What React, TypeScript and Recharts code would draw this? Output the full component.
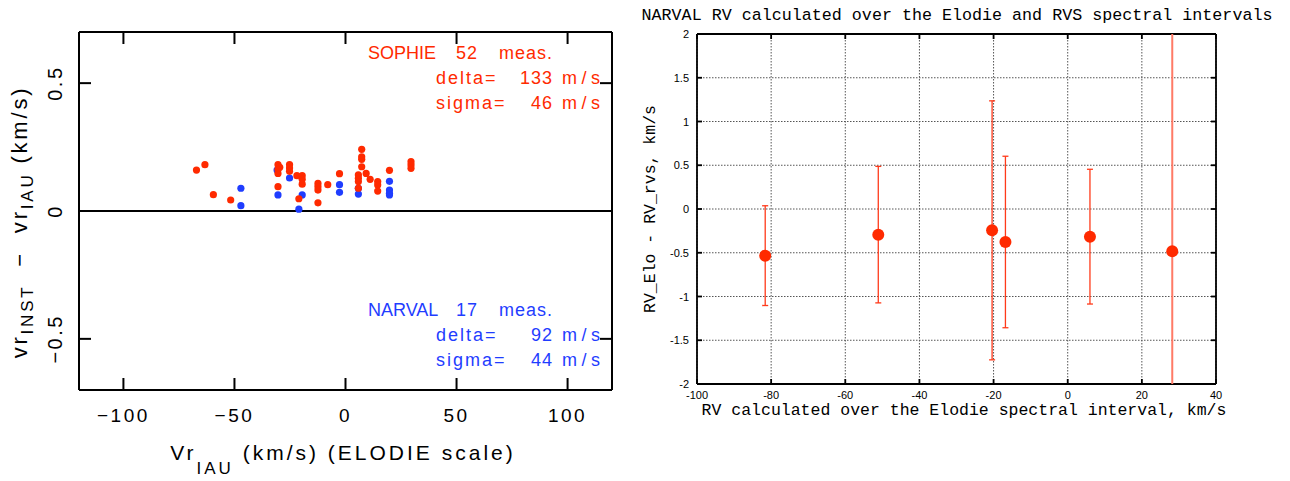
import React from 'react';
import { ScatterChart, Scatter, XAxis, YAxis, CartesianGrid, ReferenceLine, ErrorBar } from 'recharts';

// left panel: Vr(IAU) vs Vr(INST) - Vr(IAU)
const sophieVr = [
  -67.1, -63.3, -59.5, -51.7, -30.4, -29.6, -30.4, -30.4, -30.4, -25.2, -25.2, -25.2, -21.9, -19.5, -19.5, -19.5,
  -21.0, -12.4, -12.4, -12.4, -12.4, -8.0, -2.7, 7.3, 7.3, 7.3, 7.3, 5.8, 5.8, 5.8, 5.8, 9.3, 11.1, 14.5, 14.5,
  14.5, 19.8, 29.5, 29.5, 29.5,
];
const sophieDiff = [
  0.16, 0.181, 0.064, 0.043, 0.181, 0.171, 0.163, 0.147, 0.095, 0.181, 0.168, 0.155, 0.138, 0.138, 0.124, 0.105,
  0.048, 0.108, 0.095, 0.082, 0.032, 0.103, 0.146, 0.241, 0.212, 0.202, 0.173, 0.141, 0.128, 0.115, 0.089, 0.147,
  0.124, 0.115, 0.102, 0.078, 0.159, 0.193, 0.18, 0.167,
];
const narvalVr = [-47.1, -47.1, -30.4, -30.8, -25.2, -19.5, -21.0, -2.7, -2.7, 5.8, 5.8, 19.8, 19.8, 19.8, 19.8];
const narvalDiff = [0.089, 0.021, 0.063, 0.16, 0.129, 0.063, 0.007, 0.103, 0.073, 0.089, 0.066, 0.116, 0.082, 0.069, 0.063];

const sophieStats = { count: 52, delta: 133, sigma: 46 };
const narvalStats = { count: 17, delta: 92, sigma: 44 };

const leftXTicks = [-100, -50, 0, 50, 100];
const leftYTicks = [-0.5, 0, 0.5];
const leftXDomain = [-120, 120];
const leftYDomain = [-0.7, 0.7];

// right panel: RV (Elodie interval) vs RV_Elo - RV_rvs
const eloRv = [-81.6, -51.1, -20.4, -16.8, 6.0, 28.2];
const eloMinusRvs = [-0.533, -0.293, -0.244, -0.377, -0.316, -0.484];
const eloRvsErr = [0.57, 0.78, 1.48, 0.98, 0.77, 3.2];

const rightXTicks = [-100, -80, -60, -40, -20, 0, 20, 40];
const rightYTicks = [-2, -1.5, -1, -0.5, 0, 0.5, 1, 1.5, 2];
const rightXDomain = [-100, 40];
const rightYDomain = [-2, 2];

const sophieData = sophieVr.map((x, i) => ({ x, y: sophieDiff[i] }));
const narvalData = narvalVr.map((x, i) => ({ x, y: narvalDiff[i] }));
const rightData = eloRv.map((x, i) => ({
  x,
  y: eloMinusRvs[i],
  err: eloRvsErr[i],
  // bars running off the frame are cut at the frame (no caps)
  errCut: [Math.min(eloRvsErr[i], eloMinusRvs[i] - rightYDomain[0]), Math.min(eloRvsErr[i], rightYDomain[1] - eloMinusRvs[i])],
}));
const fits = (d: { y: number; err: number }) => d.y - d.err >= rightYDomain[0] && d.y + d.err <= rightYDomain[1];
const rightInside = rightData.filter(fits);
const rightOutside = rightData.filter((d) => !fits(d));

const SANS = '"Liberation Sans", Arial, Helvetica, sans-serif';
const MONO = '"Liberation Mono", "Courier New", monospace';
const RED = '#ff2a00';
const BLUE = '#1f3dff';

// plot boxes (chart coords) and inward tick length in px
const L = { top: 32, right: 612, left: 79, bottom: 390, tick: 12 };
const R = { top: 34, right: 576, left: 57, bottom: 384, tick: 5 };

const minus = (v: number) => String(v).replace('-', '\u2212');

const LeftXTick = (props: any) => {
  const { x, y, payload } = props;
  return (
    <text x={x} y={y - 2 + 32} textAnchor="middle" fontSize={19} letterSpacing={2.5} fontFamily={SANS} fill="#000">
      {minus(payload.value)}
    </text>
  );
};

const LeftYTick = (props: any) => {
  const { x, y, payload } = props;
  const bx = x + 2 - 17;
  return (
    <text x={bx} y={y} transform={`rotate(-90 ${bx} ${y})`} textAnchor="middle" fontSize={20} letterSpacing={2.5} fontFamily={SANS} fill="#000">
      {minus(payload.value)}
    </text>
  );
};

const RightXTick = (props: any) => {
  const { x, y, payload } = props;
  return (
    <text x={x} y={y - 2 + 15} textAnchor="middle" fontSize={11} fontFamily={SANS} fill="#000">
      {payload.value}
    </text>
  );
};

const RightYTick = (props: any) => {
  const { x, y, payload } = props;
  return (
    <text x={x + 2 - 8} y={y + 4} textAnchor="end" fontSize={11} fontFamily={SANS} fill="#000">
      {payload.value}
    </text>
  );
};

const dot = (r: number, color: string) => (props: any) => <circle cx={props.cx} cy={props.cy} r={r} fill={color} />;

// frame + inward ticks on all four sides, drawn as reference lines in data units
function frameLines(
  xDom: number[], yDom: number[], xTicks: number[], yTicks: number[],
  box: { top: number; right: number; left: number; bottom: number; tick: number }, width: number,
) {
  const dx = ((xDom[1] - xDom[0]) * box.tick) / (box.right - box.left);
  const dy = ((yDom[1] - yDom[0]) * box.tick) / (box.bottom - box.top);
  const s = { stroke: '#000', strokeWidth: width };
  return [
    <ReferenceLine key="fb" y={yDom[0]} {...s} />,
    <ReferenceLine key="ft" y={yDom[1]} {...s} />,
    <ReferenceLine key="fl" x={xDom[0]} {...s} />,
    <ReferenceLine key="fr" x={xDom[1]} {...s} />,
    ...xTicks.flatMap((t) => [
      <ReferenceLine key={`xb${t}`} segment={[{ x: t, y: yDom[0] }, { x: t, y: yDom[0] + dy }]} {...s} />,
      <ReferenceLine key={`xt${t}`} segment={[{ x: t, y: yDom[1] }, { x: t, y: yDom[1] - dy }]} {...s} />,
    ]),
    ...yTicks.flatMap((t) => [
      <ReferenceLine key={`yl${t}`} segment={[{ x: xDom[0], y: t }, { x: xDom[0] + dx, y: t }]} {...s} />,
      <ReferenceLine key={`yr${t}`} segment={[{ x: xDom[1], y: t }, { x: xDom[1] - dx, y: t }]} {...s} />,
    ]),
  ];
}

function LeftPanel() {
  return (
    <ScatterChart width={640} height={481} margin={{ top: L.top, right: 640 - L.right, bottom: 0, left: 0 }}>
      <XAxis type="number" dataKey="x" domain={leftXDomain} ticks={leftXTicks} interval={0} height={91}
        tickSize={0} axisLine={false} tickLine={false} tick={<LeftXTick />} allowDataOverflow />
      <YAxis type="number" dataKey="y" domain={leftYDomain} ticks={leftYTicks} interval={0} width={79}
        tickSize={0} axisLine={false} tickLine={false} tick={<LeftYTick />} allowDataOverflow />
      {frameLines(leftXDomain, leftYDomain, leftXTicks, leftYTicks, L, 2)}
      <ReferenceLine y={0} stroke="#000" strokeWidth={2} />
      <Scatter data={narvalData} fill={BLUE} shape={dot(3.6, BLUE)} isAnimationActive={false} />
      <Scatter data={sophieData} fill={RED} shape={dot(3.6, RED)} isAnimationActive={false} />
    </ScatterChart>
  );
}

function RightPanel() {
  return (
    <ScatterChart width={650} height={481} margin={{ top: R.top, right: 650 - R.right, bottom: 0, left: 0 }}>
      <CartesianGrid stroke="#555" strokeDasharray="1.5 1.5" />
      <XAxis type="number" dataKey="x" domain={rightXDomain} ticks={rightXTicks} interval={0} height={97}
        tickSize={0} axisLine={false} tickLine={false} tick={<RightXTick />} allowDataOverflow />
      <YAxis type="number" dataKey="y" domain={rightYDomain} ticks={rightYTicks} interval={0} width={57}
        tickSize={0} axisLine={false} tickLine={false} tick={<RightYTick />} allowDataOverflow />
      {frameLines(rightXDomain, rightYDomain, rightXTicks, rightYTicks, R, 1.8)}
      <Scatter data={rightInside} fill={RED} shape={dot(6, RED)} isAnimationActive={false}>
        <ErrorBar dataKey="err" direction="y" width={3} stroke="#ff3a1a" strokeWidth={1.3} />
      </Scatter>
      <Scatter data={rightOutside} fill={RED} shape={dot(6, RED)} isAnimationActive={false}>
        <ErrorBar dataKey="errCut" direction="y" width={0} stroke="#ff7a66" strokeWidth={2} />
      </Scatter>
    </ScatterChart>
  );
}

// html text placed by its baseline point (x, y)
const ASC: Record<string, number> = { [SANS]: 0.8465, [MONO]: 0.7665 };

type TxtProps = {
  x: number; y: number; size: number; family?: string; color?: string;
  anchor?: 'start' | 'middle' | 'end'; spacing?: number; rotate?: number; children: React.ReactNode;
};

function Txt({ x, y, size, family = SANS, color = '#000', anchor = 'start', spacing = 0, rotate = 0, children }: TxtProps) {
  const shift = anchor === 'middle' ? '-50%' : anchor === 'end' ? '-100%' : '0';
  return (
    <div style={{ position: 'absolute', left: x, top: y, width: 0, height: 0, transform: rotate ? `rotate(${rotate}deg)` : undefined, transformOrigin: '0 0' }}>
      <div style={{
        position: 'absolute', left: 0, top: -size * ASC[family], fontSize: size, lineHeight: `${size}px`,
        fontFamily: family, color, letterSpacing: spacing, whiteSpace: 'pre', transform: `translateX(${shift})`,
      }}>
        {children}
      </div>
    </div>
  );
}

const Sub = ({ size, drop, children }: { size: number; drop: number; children: React.ReactNode }) => (
  <span style={{ fontSize: size, position: 'relative', top: drop }}>{children}</span>
);

function StatsBlock({ name, stats, color, top }: { name: string; stats: { count: number; delta: number; sigma: number }; color: string; top: number }) {
  return (
    <>
      <Txt x={368} y={top} size={18} color={color}>{name}</Txt>
      <Txt x={478} y={top} size={18} color={color} anchor="end" spacing={1}>{String(stats.count)}</Txt>
      <Txt x={499} y={top} size={18} color={color} spacing={1}>meas.</Txt>
      <Txt x={436} y={top + 25} size={18} color={color} spacing={2}>delta=</Txt>
      <Txt x={553} y={top + 25} size={18} color={color} anchor="end" spacing={1}>{String(stats.delta)}</Txt>
      <Txt x={562} y={top + 25} size={18} color={color} spacing={4.5}>m/s</Txt>
      <Txt x={436} y={top + 50} size={18} color={color} spacing={2}>sigma=</Txt>
      <Txt x={553} y={top + 50} size={18} color={color} anchor="end" spacing={1}>{String(stats.sigma)}</Txt>
      <Txt x={562} y={top + 50} size={18} color={color} spacing={4.5}>m/s</Txt>
    </>
  );
}

function Labels() {
  return (
    <div style={{ position: 'absolute', left: 0, top: 0, width: 1290, height: 481, pointerEvents: 'none' }}>
      <StatsBlock name="SOPHIE" stats={sophieStats} color={RED} top={59} />
      <StatsBlock name="NARVAL" stats={narvalStats} color={BLUE} top={316} />
      <Txt x={28} y={222} size={22} spacing={2.8} anchor="middle" rotate={-90}>
        vr<Sub size={17} drop={6}>INST</Sub>{'  \u2212  '}vr<Sub size={17} drop={6}>IAU</Sub>{' (km/s)'}
      </Txt>
      <Txt x={343} y={460} size={21} spacing={3} anchor="middle">
        Vr<Sub size={17} drop={14}>IAU</Sub>{' (km/s) (ELODIE scale)'}
      </Txt>
      <Txt x={957} y={21} size={16.7} family={MONO} anchor="middle">
        NARVAL RV calculated over the Elodie and RVS spectral intervals
      </Txt>
      <Txt x={964} y={416} size={16.5} family={MONO} anchor="middle">
        RV calculated over the Elodie spectral interval, km/s
      </Txt>
      <Txt x={656} y={209} size={16.5} family={MONO} anchor="middle" rotate={-90}>
        RV_Elo - RV_rvs, km/s
      </Txt>
    </div>
  );
}

export default function App() {
  return (
    <div style={{ position: 'absolute', left: 0, top: 0, width: 1290, height: 481, background: '#fff' }}>
      <div style={{ position: 'absolute', left: 0, top: 0 }}>
        <LeftPanel />
      </div>
      <div style={{ position: 'absolute', left: 640, top: 0 }}>
        <RightPanel />
      </div>
      <Labels />
    </div>
  );
}
